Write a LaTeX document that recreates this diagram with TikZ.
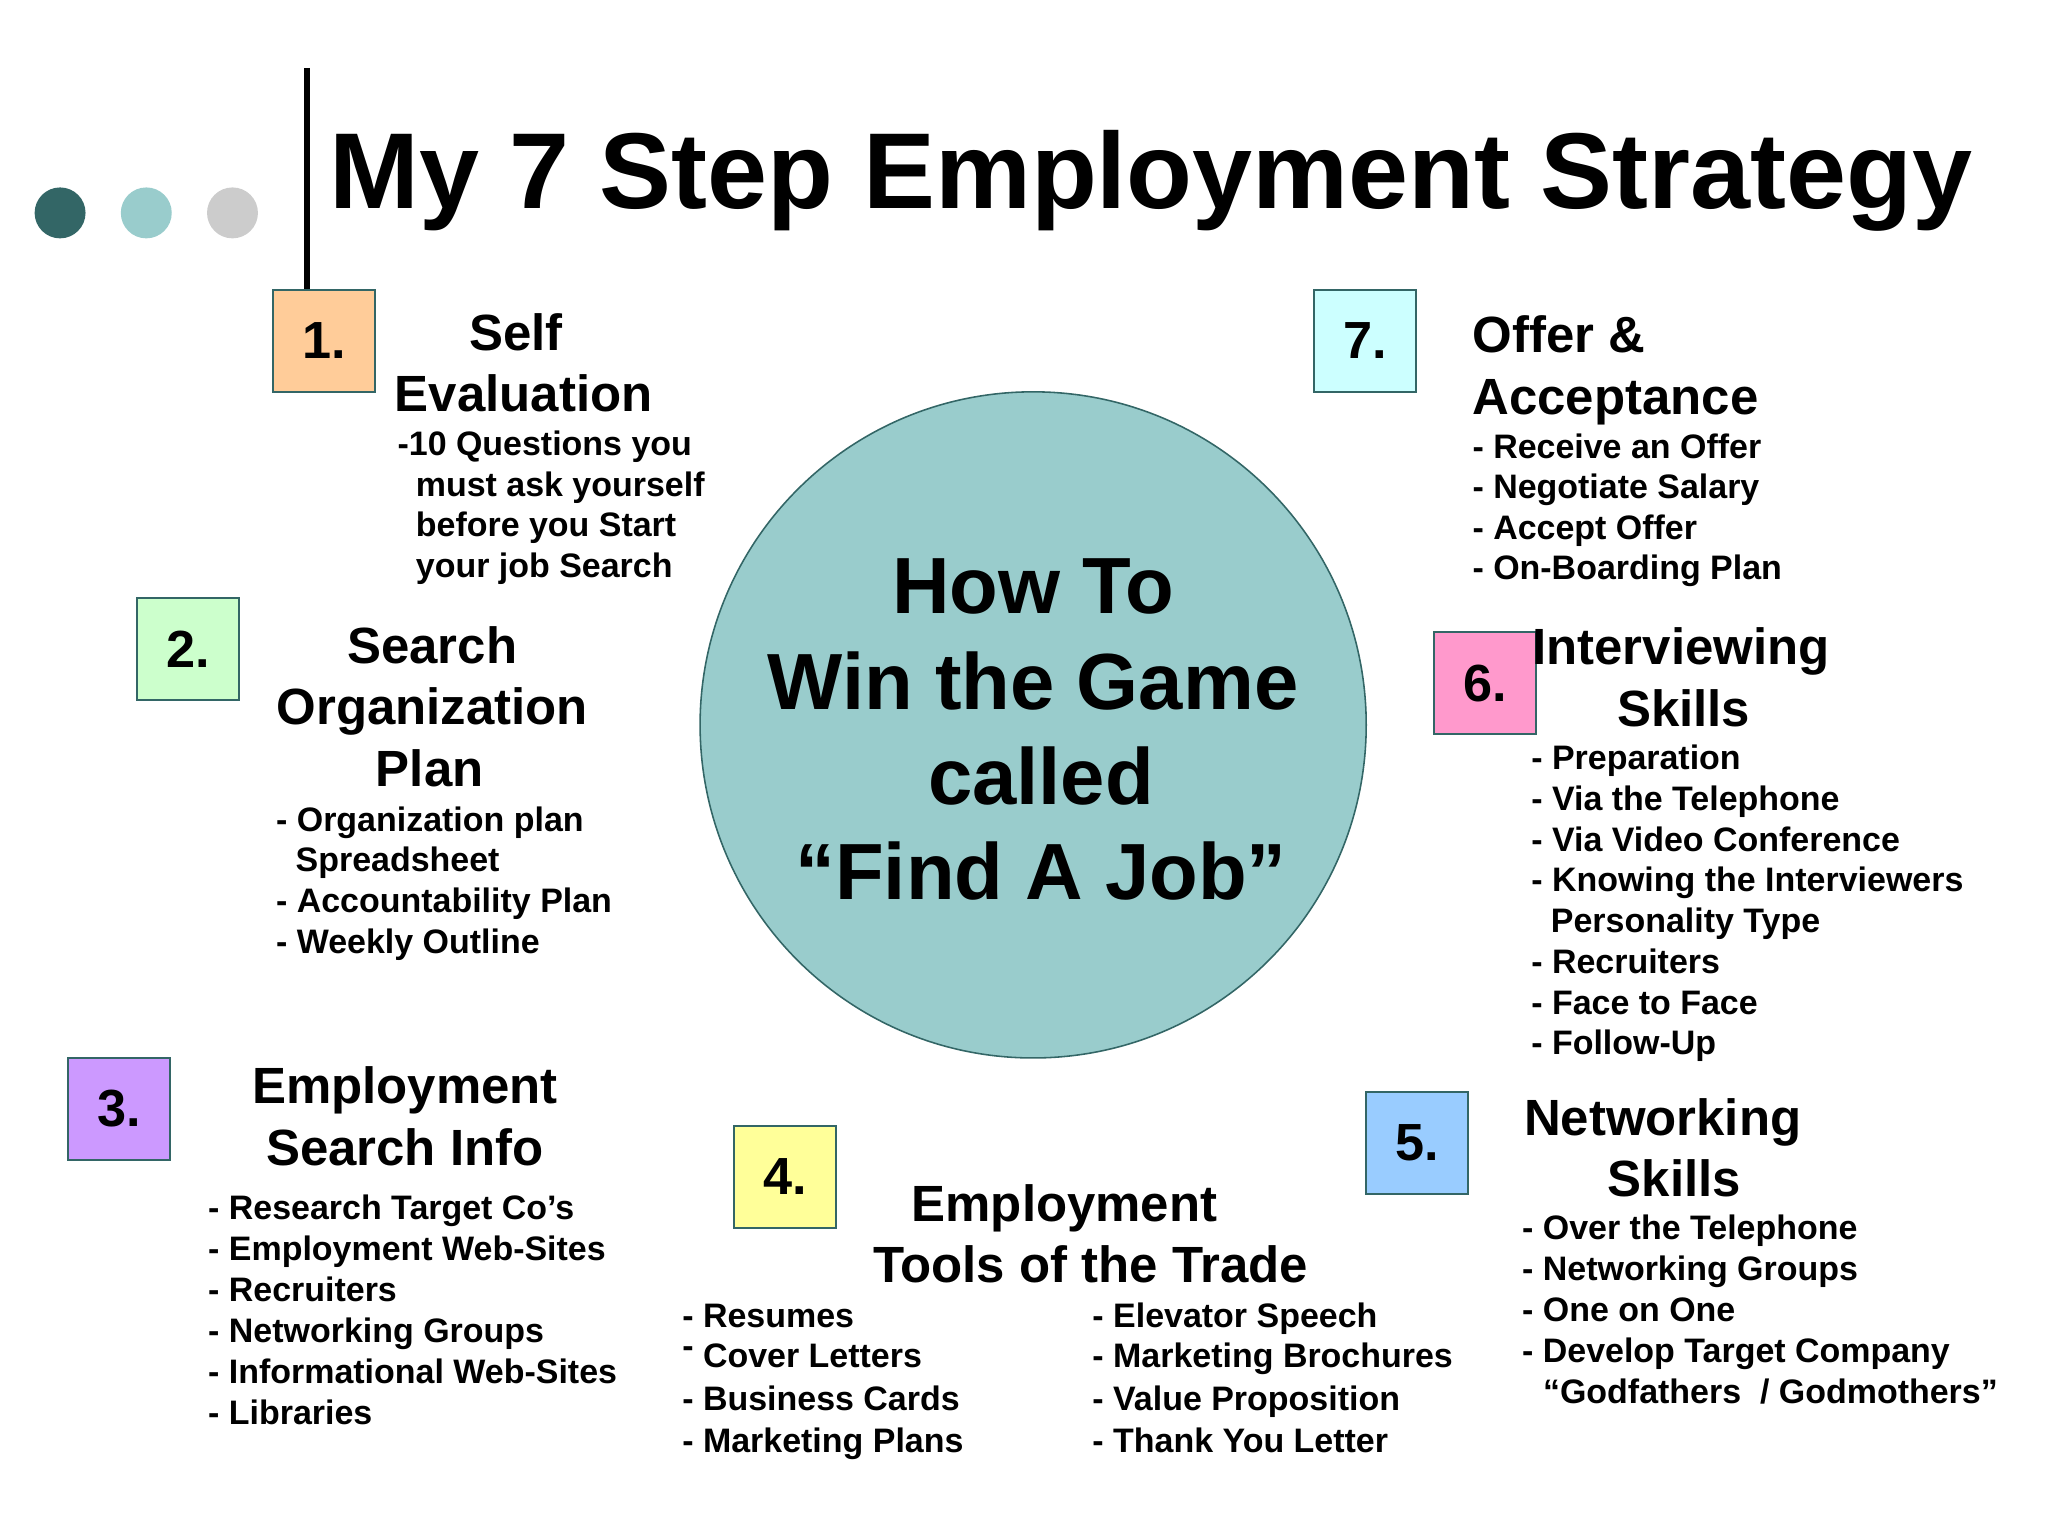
\documentclass[tikz,border=0pt]{standalone}
\usepackage{fontspec}
\setmainfont{Liberation Sans}

\definecolor{tealdark}{HTML}{336666}
\definecolor{teallight}{HTML}{99CCCC}
\definecolor{dotgray}{HTML}{CCCCCC}
\definecolor{peach}{HTML}{FFCC99}
\definecolor{mint}{HTML}{CCFFCC}
\definecolor{lilac}{HTML}{CC99FF}
\definecolor{lemon}{HTML}{FFFF99}
\definecolor{sky}{HTML}{99CCFF}
\definecolor{pink}{HTML}{FF99CC}
\definecolor{aqua}{HTML}{CCFFFF}

\begin{document}
\begin{tikzpicture}[x=0.5pt,y=-0.5pt,
    dot/.style={circle,inner sep=0pt,minimum size=19.5pt},
    stepbox/.style={draw=tealdark,line width=0.8pt,minimum size=39pt,inner sep=0pt,
        font=\fontsize{20}{24}\selectfont\bfseries},
    head/.style={anchor=base,inner sep=0pt,font=\fontsize{19.5}{23.5}\selectfont\bfseries},
    item/.style={anchor=base west,inner sep=0pt,font=\fontsize{13}{15.6}\selectfont\bfseries},
    gametxt/.style={anchor=base,inner sep=0pt,font=\fontsize{30.5}{36.5}\selectfont\bfseries}]
    \useasboundingbox (0,0) rectangle (1568,1176);

    % title bar
    \foreach \c[count=\i] in {tealdark, teallight, dotgray} {
        \node[dot,fill=\c] (dot\i) at (66*\i-20, 163) {};
    }
    \node[anchor=base west,inner sep=0pt,font=\fontsize{41.3}{48}\selectfont\bfseries]
        (title) at (252, 160) {My 7 Step Employment Strategy};

    % centre
    \node[circle,draw=tealdark,fill=teallight,line width=0.6pt,minimum size=255pt,inner sep=0pt]
        (game) at (791, 555) {};
    \foreach \x/\t[count=\i] in {791/How To, 791/Win the Game, 797/called, 797/“Find A Job”} {
        \node[gametxt] (g\i) at (\x, 397+73*\i) {\t};
    }

    % step boxes
    \node[stepbox,fill=peach] (b1) at (248, 261) {1.};
    \node[stepbox,fill=mint]  (b2) at (144, 497) {2.};
    \node[stepbox,fill=lilac] (b3) at (91, 849) {3.};
    \node[stepbox,fill=lemon] (b4) at (601, 901) {4.};
    \node[stepbox,fill=sky]   (b5) at (1085, 875) {5.};
    \node[stepbox,fill=pink]  (b6) at (1137, 523) {6.};
    \node[stepbox,fill=aqua]  (b7) at (1045, 261) {7.};

    \coordinate (rtop) at (235, 52);
    \draw[line width=2.3pt] (rtop) -- (rtop |- b1.north);

    % 1
    \node[head] (h1a) at (395, 268) {Self};
    \node[head] (h1b) at (401, 315) {Evaluation};
    \foreach \dx/\t[count=\i] in {0/-10 Questions you, 14/must ask yourself,
            14/before you Start, 14/your job Search} {
        \node[item] (s1-\i) at (304+\dx, 318+31*\i) {\t};
    }

    % 2
    \node[head] (h2a) at (331, 508) {Search};
    \node[head] (h2b) at (331, 555) {Organization};
    \node[head] (h2c) at (329, 602) {Plan};
    \foreach \dx/\t[count=\i] in {0/- Organization plan, 15/Spreadsheet,
            0/- Accountability Plan, 0/- Weekly Outline} {
        \node[item] (s2-\i) at (211+\dx, 605+31.3*\i) {\t};
    }

    % 3
    \node[head] (h3a) at (310, 845) {Employment};
    \node[head] (h3b) at (310, 892) {Search Info};
    \foreach \t[count=\i] in {Research Target Co’s, Employment Web-Sites, Recruiters,
            Networking Groups, Informational Web-Sites, Libraries} {
        \node[item] (s3-\i) at (159, 902+31.4*\i) {- \t};
    }

    % 4
    \node[head] (h4a) at (815, 935) {Employment};
    \node[head] (h4b) at (835, 982) {Tools of the Trade};
    \foreach \y/\t[count=\i] in {1016/- Resumes, 1047/{\raisebox{0.3em}{-} Cover Letters},
            1080/- Business Cards, 1112/- Marketing Plans} {
        \node[item] (s4l-\i) at (522, \y) {\t};
    }
    \foreach \y/\t[count=\i] in {1016/Elevator Speech, 1047/Marketing Brochures,
            1080/Value Proposition, 1112/Thank You Letter} {
        \node[item] (s4r-\i) at (836, \y) {- \t};
    }

    % 5
    \node[head] (h5a) at (1273, 869) {Networking};
    \node[head] (h5b) at (1282, 916) {Skills};
    \foreach \dx/\t[count=\i] in {0/- Over the Telephone, 0/- Networking Groups,
            0/- One on One, 0/- Develop Target Company,
            16/{“Godfathers \ / Godmothers”}} {
        \node[item] (s5-\i) at (1165+\dx, 918+31.3*\i) {\t};
    }

    % 6
    \node[head] (h6a) at (1287, 509) {Interviewing};
    \node[head] (h6b) at (1289, 556) {Skills};
    \foreach \dx/\t[count=\i] in {0/- Preparation, 0/- Via the Telephone,
            0/- Via Video Conference, 0/- Knowing the Interviewers,
            15/Personality Type, 0/- Recruiters, 0/- Face to Face, 0/- Follow-Up} {
        \node[item] (s6-\i) at (1172+\dx, 558+31.2*\i) {\t};
    }

    % 7
    \node[head,anchor=base west] (h7a) at (1127, 270) {Offer \&};
    \node[head,anchor=base west] (h7b) at (1127, 317) {Acceptance};
    \foreach \t[count=\i] in {Receive an Offer, Negotiate Salary, Accept Offer,
            On-Boarding Plan} {
        \node[item] (s7-\i) at (1127, 320+31*\i) {- \t};
    }
\end{tikzpicture}
\end{document}
